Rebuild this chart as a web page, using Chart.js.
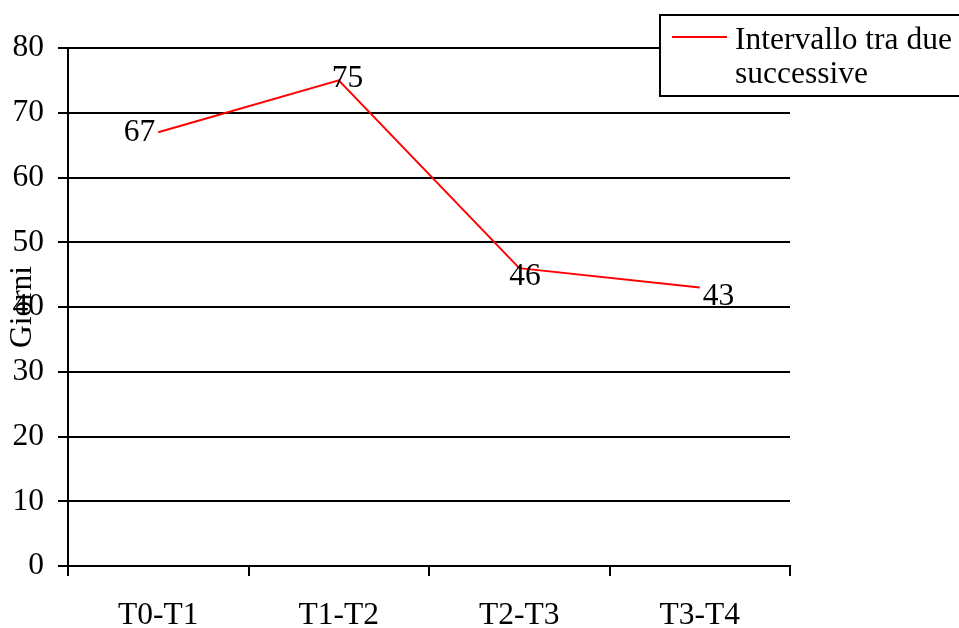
<!DOCTYPE html>
<html><head><meta charset="utf-8">
<script src="https://cdn.jsdelivr.net/npm/chart.js@4/dist/chart.umd.min.js"></script>
<style>html,body{margin:0;padding:0;background:#fff;overflow:hidden}canvas{display:block}</style>
</head><body>
<canvas id="c" width="959" height="628"></canvas>
<script>
const categories = ['T0-T1', 'T1-T2', 'T2-T3', 'T3-T4'];
const giorni = [67, 75, 46, 43];
const yMin = 0, yMax = 80, yStep = 10;
const seriesLabel = 'Intervallo tra due successive';
const seriesLabelLines = ['Intervallo tra due', 'successive'];
const yTitle = 'Giorni';

const FONT = "'Liberation Serif', 'Times New Roman', serif";
const FSIZE = 31.5;

// label placement (style only): [align, dx, dy(baseline)]
const labelPlacement = [['right', -3, 9], ['left', -7, 7], ['left', -10, 17], ['left', 3, 17]];

const dataLabels = {
  id: 'dataLabels',
  afterDatasetsDraw(chart) {
    const ctx = chart.ctx;
    const meta = chart.getDatasetMeta(0);
    ctx.save();
    ctx.font = FSIZE + 'px ' + FONT;
    ctx.fillStyle = '#000';
    ctx.textBaseline = 'alphabetic';
    meta.data.forEach((pt, i) => {
      const p = labelPlacement[i];
      ctx.textAlign = p[0];
      ctx.fillText(String(chart.data.datasets[0].data[i]), pt.x + p[1], pt.y + p[2]);
    });
    ctx.restore();
  }
};

const boxLegend = {
  id: 'boxLegend',
  afterDraw(chart) {
    const ctx = chart.ctx;
    ctx.save();
    ctx.fillStyle = '#fff';
    ctx.fillRect(660, 15, 310, 81);
    ctx.strokeStyle = '#000';
    ctx.lineWidth = 2;
    ctx.strokeRect(660, 15, 310, 81);
    ctx.strokeStyle = chart.data.datasets[0].borderColor;
    ctx.beginPath();
    ctx.moveTo(672, 37);
    ctx.lineTo(727, 37);
    ctx.stroke();
    ctx.fillStyle = '#000';
    ctx.font = FSIZE + 'px ' + FONT;
    ctx.textAlign = 'left';
    ctx.textBaseline = 'alphabetic';
    seriesLabelLines.forEach((t, i) => ctx.fillText(t, 735, 49 + i * 34));
    ctx.restore();
  }
};

new Chart(document.getElementById('c'), {
  type: 'line',
  data: {
    labels: categories,
    datasets: [{
      label: seriesLabel,
      data: giorni,
      borderColor: '#ff0000',
      borderWidth: 2,
      pointRadius: 0,
      tension: 0,
      fill: false
    }]
  },
  options: {
    responsive: false,
    animation: false,
    devicePixelRatio: 1,
    layout: { padding: { top: 48, right: 169, left: 0, bottom: 0 } },
    plugins: { legend: { display: false }, tooltip: { enabled: false } },
    scales: {
      x: {
        type: 'category',
        offset: true,
        afterFit(s) { s.height = 62; },
        grid: { display: true, offset: true, drawOnChartArea: false, drawTicks: true, tickLength: 10, color: '#000', lineWidth: 2 },
        border: { display: true, color: '#000', width: 2 },
        ticks: { color: '#000', font: { family: FONT, size: FSIZE }, padding: 21, maxRotation: 0 }
      },
      y: {
        min: yMin, max: yMax,
        afterFit(s) { s.width = 68; },
        grid: { color: '#000', lineWidth: 2, drawTicks: true, tickLength: 10 },
        border: { display: true, color: '#000', width: 2 },
        ticks: { stepSize: yStep, color: '#000', font: { family: FONT, size: FSIZE }, padding: 14 },
        title: { display: true, text: yTitle, color: '#000', font: { family: FONT, size: FSIZE }, padding: { top: 4, bottom: 0 } }
      }
    }
  },
  plugins: [dataLabels, boxLegend]
});
</script>
</body></html>
